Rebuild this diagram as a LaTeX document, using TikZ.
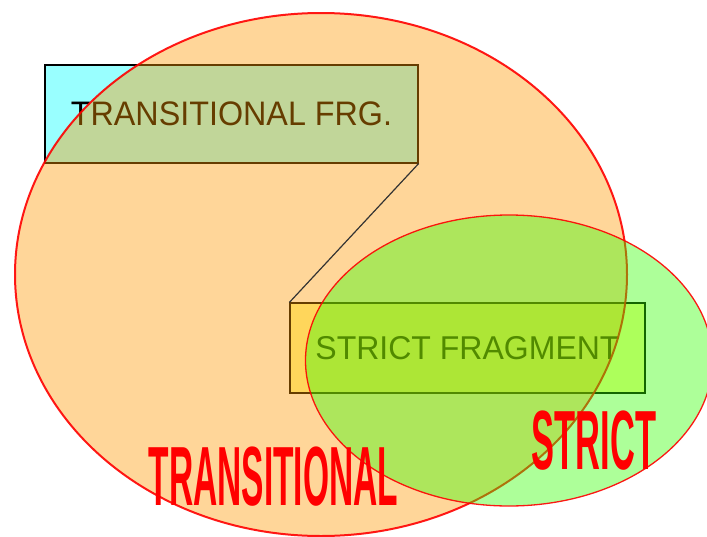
\documentclass[tikz,border=0pt]{standalone}
\usepackage{fontspec}
\setmainfont{Liberation Sans}
\usepackage{graphicx}
\definecolor{cyanbox}{HTML}{99FFFF}
\definecolor{yellowbox}{HTML}{FFFF99}
\definecolor{orangefill}{HTML}{FF9900}
\definecolor{greenfill}{HTML}{33FF00}
\tikzset{
  fragbox/.style={draw=black, line width=1.2pt, inner sep=0pt, font=\fontsize{34}{34}\selectfont},
  setell/.style={fill opacity=0.4, draw=red, draw opacity=0.9},
  biglabel/.style={text=red, inner sep=0pt, font=\bfseries\fontsize{84}{84}\selectfont},
}
\begin{document}
\begin{tikzpicture}[x=1pt, y=-1pt]
\useasboundingbox (0,0) rectangle (707,536);
\clip (0,0) rectangle (707,536);
% fragment boxes
\node[fragbox, fill=cyanbox, minimum width=373pt, minimum height=98pt] (tf) at (231.5,114)
  {\scalebox{0.95}[1]{TRANSITIONAL FRG.}};
\node[fragbox, fill=yellowbox, minimum width=355pt, minimum height=90pt] (sf) at (467.5,348)
  {\scalebox{0.97}[1]{\fontsize{33}{33}\selectfont STRICT FRAGMENT}};
% sets
\path[setell, fill=orangefill, line width=2pt] (321,274.5) ellipse [x radius=306, y radius=261.5];
\draw[line width=1.2pt, draw=black!80] (tf.south east) -- (sf.north west);
\path[setell, fill=greenfill, line width=1.3pt] (509,360.5) ellipse [x radius=203.5, y radius=145.5];
% labels
\node[biglabel, anchor=base west] (lt) at (148.5,505) {\scalebox{0.399}[1]{TRANSITIONAL}};
\node[biglabel, anchor=base west] (ls) at (531.5,469) {\scalebox{0.41}[1]{STRICT}};
\end{tikzpicture}
\end{document}
